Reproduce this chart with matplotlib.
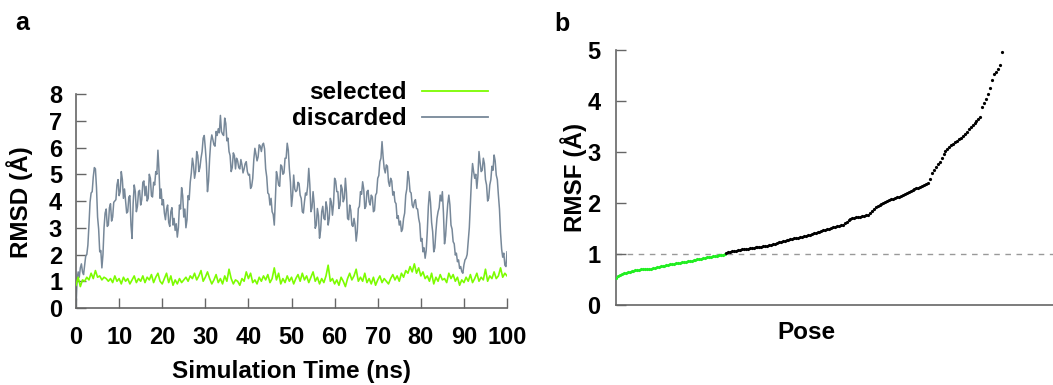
import numpy as np
import matplotlib.pyplot as plt

plt.rcParams['font.family'] = ['Liberation Sans', 'DejaVu Sans']
plt.rcParams['font.weight'] = 'bold'

# panel a: RMSD over the simulation (discarded one value every 0.25 ns)
rmsd_discarded = [
    0.00, 1.10, 1.35, 1.15, 1.50, 1.65, 1.35, 1.25, 1.60, 1.95,
    2.00, 2.35, 3.10, 3.95, 4.30, 4.35, 4.90, 5.25, 5.20, 4.50,
    3.40, 2.95, 2.10, 2.15, 1.50, 2.00, 3.00, 3.55, 3.70, 3.05,
    3.10, 3.75, 3.90, 3.25, 3.40, 3.95, 4.00, 4.05, 4.60, 4.80,
    4.20, 4.35, 5.10, 4.80, 4.10, 4.45, 4.00, 3.55, 3.60, 4.15,
    4.20, 3.10, 2.60, 3.90, 4.60, 4.35, 3.60, 3.80, 4.35, 4.40,
    3.85, 4.05, 4.70, 4.75, 4.20, 4.55, 4.00, 4.10, 5.00, 4.85,
    4.20, 4.15, 4.70, 4.60, 5.10, 5.00, 5.90, 5.15, 4.10, 4.45,
    3.85, 4.05, 3.55, 3.30, 3.70, 3.85, 3.20, 3.05, 3.60, 3.75,
    3.10, 3.35, 2.90, 3.15, 2.65, 3.00, 3.85, 3.70, 4.50, 4.20,
    3.40, 3.70, 3.00, 3.30, 4.20, 4.05, 4.70, 5.05, 5.60, 5.35,
    4.85, 5.10, 5.85, 5.70, 5.10, 5.25, 5.60, 5.85, 6.35, 6.45,
    5.97, 5.40, 4.35, 4.75, 5.60, 6.20, 6.47, 6.30, 6.10, 6.05,
    6.60, 6.45, 6.70, 6.55, 7.20, 6.60, 6.50, 6.45, 7.10, 6.90,
    6.25, 6.35, 5.85, 5.70, 5.10, 5.25, 5.80, 5.70, 5.20, 5.60,
    5.50, 5.25, 5.20, 5.55, 5.35, 5.05, 5.20, 5.40, 5.47, 5.10,
    4.97, 5.00, 4.47, 4.55, 4.85, 5.55, 5.97, 5.75, 5.50, 5.65,
    6.10, 6.05, 5.85, 6.10, 6.16, 5.95, 5.20, 4.90, 4.30, 4.25,
    3.85, 4.10, 3.60, 3.50, 3.10, 4.05, 5.10, 4.90, 4.60, 4.55,
    5.35, 5.30, 5.00, 5.05, 5.60, 5.60, 6.16, 5.90, 5.20, 4.70,
    3.80, 4.20, 4.97, 4.45, 4.35, 4.40, 4.70, 4.65, 4.22, 4.10,
    3.60, 3.55, 3.97, 4.30, 4.22, 4.55, 5.22, 4.60, 3.60, 3.75,
    4.35, 3.90, 2.98, 3.10, 3.72, 3.45, 2.61, 2.90, 3.60, 3.80,
    3.35, 3.30, 3.97, 3.75, 3.10, 3.35, 4.10, 3.95, 3.47, 3.90,
    4.85, 4.75, 4.35, 4.35, 3.72, 3.85, 4.60, 4.45, 3.97, 4.10,
    4.85, 4.30, 3.35, 3.30, 3.85, 3.65, 3.10, 3.05, 3.35, 3.10,
    2.50, 2.85, 3.72, 3.80, 4.35, 4.25, 4.72, 4.45, 3.72, 3.80,
    4.35, 4.40, 3.97, 3.85, 4.22, 4.15, 3.60, 3.65, 4.22, 4.30,
    4.85, 4.95, 5.47, 5.60, 6.22, 5.65, 5.22, 5.05, 5.35, 5.30,
    4.72, 4.55, 4.85, 4.75, 4.22, 4.35, 3.97, 3.90, 3.35, 3.45,
    3.10, 3.25, 2.86, 2.95, 3.35, 3.55, 4.22, 4.45, 5.10, 4.85,
    4.35, 4.30, 3.85, 3.75, 3.97, 4.05, 3.72, 3.70, 3.35, 3.15,
    2.50, 2.60, 2.10, 2.25, 1.86, 2.15, 2.86, 3.80, 4.35, 3.95,
    3.20, 2.85, 2.10, 2.25, 2.86, 3.35, 3.60, 3.75, 4.22, 4.00,
    4.35, 3.55, 2.40, 2.70, 3.35, 3.90, 4.22, 3.85, 3.10, 2.95,
    2.48, 2.40, 1.98, 2.05, 1.73, 1.80, 1.48, 1.55, 1.36, 1.30,
    1.61, 1.80, 1.86, 2.00, 2.48, 3.00, 3.90, 4.80, 5.40, 5.10,
    4.85, 5.00, 4.47, 4.95, 5.85, 5.45, 5.10, 5.15, 5.60, 5.40,
    4.80, 4.60, 4.00, 4.10, 4.60, 4.80, 5.30, 5.15, 5.72, 5.50,
    4.97, 4.80, 4.22, 3.70, 2.80, 2.20, 1.90, 2.05, 1.60, 1.55,
    2.10,
]
# selected, one value every 0.5 ns
rmsd_selected = [
    0.85, 1.15, 0.80, 1.05, 1.00, 1.15, 1.05, 1.30, 1.10, 1.40,
    1.15, 1.20, 1.05, 1.15, 1.10, 1.00, 1.10, 0.95, 1.20, 1.00,
    1.10, 0.90, 1.15, 1.00, 1.10, 0.90, 1.05, 1.20, 0.95, 1.10,
    1.00, 1.20, 0.95, 1.15, 1.05, 1.25, 0.95, 1.15, 1.30, 1.00,
    0.90, 1.10, 1.30, 0.95, 1.20, 0.85, 1.05, 0.90, 1.10, 0.95,
    1.05, 1.15, 1.00, 1.20, 1.10, 1.30, 1.05, 1.20, 1.40, 1.00,
    1.15, 1.35, 1.10, 0.90, 1.05, 1.25, 0.95, 1.10, 0.90, 1.20,
    1.00, 1.45, 1.10, 0.90, 1.05, 1.00, 0.85, 1.10, 1.00, 1.35,
    1.10, 1.30, 0.95, 1.05, 0.90, 1.15, 1.00, 1.20, 1.05, 1.25,
    0.95, 1.10, 1.50, 1.05, 1.30, 0.90, 1.10, 0.95, 1.20, 1.00,
    1.15, 0.90, 1.10, 1.25, 1.00, 1.30, 1.05, 1.20, 0.95, 1.15,
    1.35, 1.00, 1.15, 0.90, 1.10, 0.95, 1.20, 1.60, 1.00, 1.10,
    0.90, 1.05, 0.85, 1.15, 1.00, 0.80, 1.10, 1.30, 1.05, 1.20,
    1.45, 1.00, 1.15, 1.00, 1.30, 0.95, 1.10, 0.90, 1.15, 0.85,
    1.05, 1.20, 0.95, 1.10, 1.00, 0.90, 1.10, 1.25, 1.05, 1.20,
    1.00, 1.30, 1.15, 1.40, 1.30, 1.55, 1.35, 1.65, 1.30, 1.50,
    1.20, 1.35, 1.10, 1.20, 1.00, 1.30, 0.90, 1.15, 1.00, 1.25,
    1.05, 1.10, 0.95, 1.30, 1.10, 1.25, 1.00, 1.15, 0.85, 1.05,
    0.95, 1.15, 1.00, 1.25, 0.95, 1.10, 1.30, 1.00, 1.15, 1.05,
    1.45, 1.00, 1.20, 1.10, 1.35, 1.10, 1.20, 1.50, 1.15, 1.30,
    1.20,
]

# panel b: RMSF of every pose, sorted
rmsf = [
    0.53, 0.56, 0.58, 0.60, 0.62, 0.63, 0.64, 0.65, 0.66, 0.67,
    0.68, 0.69, 0.69, 0.70, 0.70, 0.70, 0.71, 0.71, 0.71, 0.72,
    0.73, 0.74, 0.75, 0.76, 0.77, 0.77, 0.78, 0.79, 0.80, 0.81,
    0.81, 0.82, 0.83, 0.83, 0.84, 0.85, 0.85, 0.86, 0.87, 0.87,
    0.88, 0.89, 0.90, 0.91, 0.91, 0.92, 0.93, 0.94, 0.95, 0.95,
    0.96, 0.97, 0.97, 0.98, 0.99, 0.99, 1.00, 1.02, 1.03, 1.04,
    1.05, 1.06, 1.06, 1.07, 1.08, 1.09, 1.09, 1.10, 1.10, 1.11,
    1.12, 1.12, 1.13, 1.13, 1.14, 1.14, 1.15, 1.15, 1.16, 1.17,
    1.18, 1.19, 1.20, 1.22, 1.23, 1.24, 1.25, 1.26, 1.27, 1.28,
    1.29, 1.30, 1.31, 1.32, 1.32, 1.33, 1.34, 1.35, 1.36, 1.37,
    1.37, 1.39, 1.41, 1.42, 1.43, 1.44, 1.45, 1.47, 1.48, 1.49,
    1.50, 1.51, 1.52, 1.53, 1.54, 1.55, 1.56, 1.57, 1.60, 1.63,
    1.66, 1.68, 1.70, 1.71, 1.72, 1.72, 1.73, 1.74, 1.75, 1.76,
    1.77, 1.80, 1.84, 1.88, 1.92, 1.95, 1.97, 1.98, 2.00, 2.02,
    2.03, 2.05, 2.07, 2.08, 2.10, 2.11, 2.12, 2.14, 2.16, 2.18,
    2.19, 2.21, 2.23, 2.25, 2.27, 2.29, 2.30, 2.32, 2.34, 2.35,
    2.37, 2.39, 2.48, 2.58, 2.64, 2.70, 2.76, 2.81, 2.88, 2.96,
    3.02, 3.06, 3.10, 3.13, 3.16, 3.19, 3.22, 3.25, 3.28, 3.31,
    3.35, 3.40, 3.45, 3.50, 3.53, 3.57, 3.60, 3.64, 3.69, 3.88,
    3.96, 4.04, 4.14, 4.25, 4.42, 4.52, 4.57, 4.63, 4.70, 4.97,
]
cutoff = 1.0

gray = '#778899'
axis_gray = '#666666'

fig = plt.figure(figsize=(10.53, 3.85), dpi=100)

# ---- panel a
ax1 = fig.add_axes([0.0722, 0.2, 0.4093, 0.5558])
t_disc = np.linspace(0, 100, len(rmsd_discarded))
t_sel = np.linspace(0, 100, len(rmsd_selected))
ax1.plot(t_sel, rmsd_selected, color='#7cfc00', lw=1.2, label='selected', zorder=3)
ax1.plot(t_disc, rmsd_discarded, color=gray, lw=1.1, label='discarded', zorder=2)
ax1.set_xlim(0, 100)
ax1.set_ylim(0, 8)
ax1.set_xticks(range(0, 101, 10))
ax1.set_yticks(range(0, 9))
ax1.tick_params(axis='x', direction='in', length=7, width=1, color=axis_gray,
                labelsize=17, pad=13)
ax1.tick_params(axis='y', direction='in', length=7, width=1, color=axis_gray,
                labelsize=17, pad=10)
ax1.set_xlabel('Simulation Time (ns)', fontsize=17.5, fontweight='bold')
ax1.set_ylabel('RMSD (Å)', fontsize=17.5, fontweight='bold')
ax1.xaxis.set_label_coords(0.5, -0.243)
ax1.yaxis.set_label_coords(-0.10, 0.495)
leg = ax1.legend(loc='upper right', bbox_to_anchor=(0.956, 1.06), frameon=False,
                 markerfirst=False, fontsize=17.5, handlelength=2.7,
                 handletextpad=0.65, labelspacing=0.12, borderpad=0,
                 borderaxespad=0)
for h in leg.get_lines():
    h.set_linewidth(1.3)

# ---- panel b
ax2 = fig.add_axes([0.585, 0.2078, 0.415, 0.6623])
pose = np.arange(len(rmsf))
vals = np.array(rmsf)
low = vals <= cutoff
ax2.plot(pose[low], vals[low], 'o', color='#22ee22', ms=2.3, mew=0, zorder=3)
ax2.plot(pose[~low], vals[~low], 'o', color='black', ms=2.3, mew=0, zorder=3)
ax2.axhline(cutoff, color='#999999', lw=1, ls=(0, (4, 4)), zorder=1)
ax2.set_xlim(0, 225.5)
ax2.set_ylim(0, 5)
ax2.set_xticks([])
ax2.set_yticks(range(0, 6))
ax2.tick_params(axis='y', direction='in', length=7, width=1, color=axis_gray,
                labelsize=17, pad=11)
ax2.set_xlabel('Pose', fontsize=17.5, fontweight='bold')
ax2.set_ylabel('RMSF (Å)', fontsize=17.5, fontweight='bold')
ax2.xaxis.set_label_coords(0.435, -0.063)
ax2.yaxis.set_label_coords(-0.066, 0.5)

for ax in (ax1, ax2):
    ax.spines['top'].set_visible(False)
    ax.spines['right'].set_visible(False)
    ax.spines['left'].set_color(axis_gray)
    ax.spines['bottom'].set_color(axis_gray)
    ax.spines['left'].set_linewidth(1.2)
    ax.spines['bottom'].set_linewidth(1.2)

fig.text(22 / 1053, 1 - 23 / 385, 'a', fontsize=18, fontweight='bold', ha='center', va='center')
fig.text(562 / 1053, 1 - 24 / 385, 'b', fontsize=18, fontweight='bold', ha='center', va='center')

fig.savefig('out.png', dpi=100)
